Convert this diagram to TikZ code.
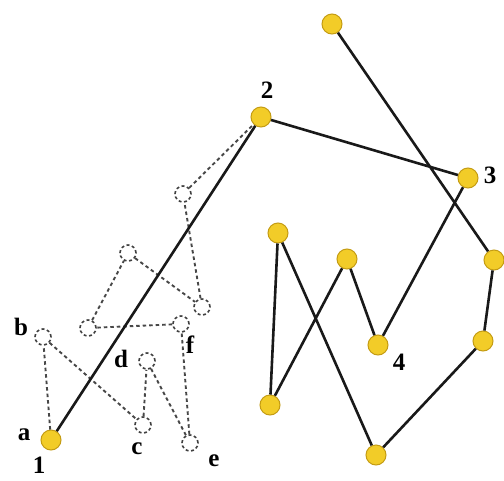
\documentclass[tikz,border=0pt]{standalone}
\usepackage{fontspec}
\setmainfont{Liberation Serif}
\usetikzlibrary{calc}
\definecolor{ballfill}{RGB}{242,204,40}
\definecolor{balledge}{RGB}{196,156,20}
\begin{document}
\begin{tikzpicture}[x=1pt,y=-1pt,
  ball/.style={circle,minimum size=20pt,inner sep=0pt,fill=ballfill,draw=balledge,line width=1pt},
  ghost/.style={circle,minimum size=16pt,inner sep=0pt,draw=black!75,dash pattern=on 3pt off 2.5pt,line width=1.6pt},
  tour/.style={line width=2.6pt,black!90},
  alt/.style={line width=1.9pt,black!72,dash pattern=on 3.5pt off 3pt},
  lab/.style={font=\bfseries\fontsize{25}{25}\selectfont,inner sep=0pt}]
\useasboundingbox (0,0) rectangle (504,480);
% solid nodes
\node[ball] (n1) at (51,440) {};
\node[ball] (n2) at (261,117) {};
\node[ball] (n3) at (468,178) {};
\node[ball] (n4) at (378,345) {};
\node[ball] (top) at (332,24) {};
\node[ball] (ru) at (494,260) {};
\node[ball] (rl) at (483,341) {};
\node[ball] (bot) at (376,455) {};
\node[ball] (mt) at (347,259) {};
\node[ball] (lt) at (278,233) {};
\node[ball] (lb) at (270,405) {};
% dashed nodes
\node[ghost] (b) at (43,337) {};
\node[ghost] (c) at (143,425) {};
\node[ghost] (d) at (147,361) {};
\node[ghost] (e) at (190,443) {};
\node[ghost] (f) at (181,324) {};
\node[ghost] (g4) at (88,328) {};
\node[ghost] (g2) at (128,253) {};
\node[ghost] (g3) at (202,307) {};
\node[ghost] (g1) at (183,194) {};
% dashed alternative path
\draw[alt] (n1) -- (b) -- (c) -- (d) -- (e) -- (f) -- (g4) -- (g2) -- (g3) -- (g1) -- (n2);
% solid tour
\draw[tour] (n1) -- (n2) -- (n3) -- (n4) -- (mt) -- (lb) -- (lt) -- (bot) -- (rl) -- (ru) -- (top);
% labels
\node[lab] (l1) at (39,465) {1};
\node[lab] (l2) at (267,90) {2};
\node[lab] (l3) at (490,175) {3};
\node[lab] (l4) at (399,362) {4};
\node[lab] (la) at (24,435) {a};
\node[lab] (lb2) at (21,327) {b};
\node[lab] (lc) at (137,449) {c};
\node[lab] (ld) at (121,359) {d};
\node[lab] (le) at (214,461) {e};
\node[lab] (lf) at (190,345) {f};
\end{tikzpicture}
\end{document}
